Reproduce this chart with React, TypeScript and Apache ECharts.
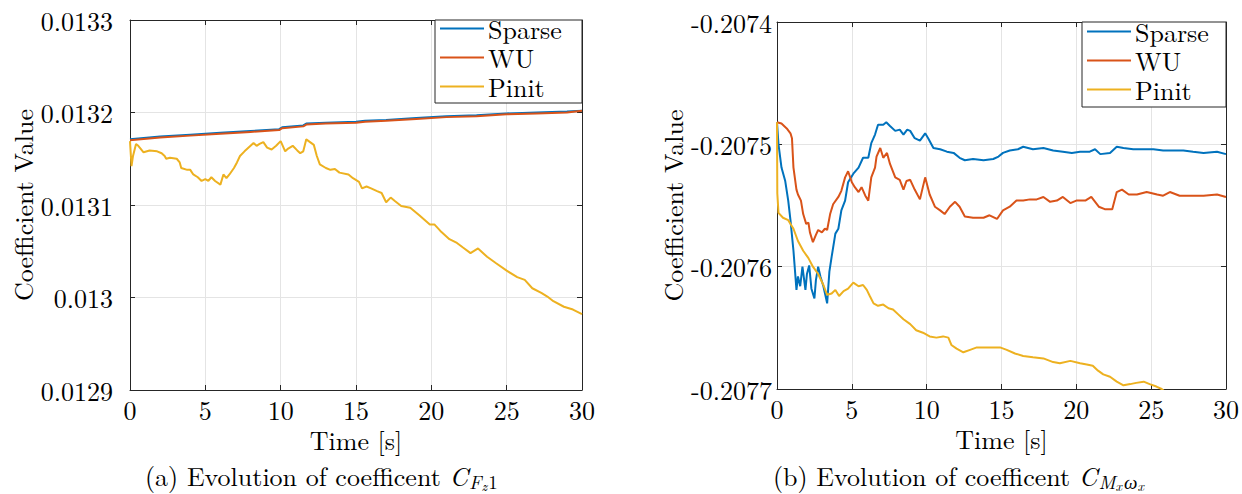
import React, { useEffect, useRef } from "react";
import * as echarts from "echarts";

const FONT = "Latin Modern Roman";
const BLUE = "#0072BD";
const RED = "#D95319";
const YEL = "#EDB120";
const AX = "#262626";
const GRIDC = "#e4e4e4";

const seriesNames = ["Sparse", "WU", "Pinit"];
const xTicks = { min: 0, max: 30, interval: 5 };
const leftY = { min: 0.0129, max: 0.0133, interval: 0.0001 };
const rightY = { min: -0.2077, max: -0.2074, interval: 0.0001 };

// (a) C_{Fz1}
const leftSparse = [
  [0, 0.013171], [2, 0.013174], [4, 0.013176], [6, 0.013178], [8, 0.01318], [9.9, 0.013182],
  [10.1, 0.013184], [11.5, 0.013186], [11.7, 0.013188], [13, 0.013189], [15, 0.01319],
  [15.6, 0.013191], [17, 0.013192], [19, 0.013194], [21, 0.013196], [23, 0.013197],
  [25, 0.013199], [27, 0.0132], [29, 0.013201], [30, 0.013202],
];
const leftWU = [
  [0, 0.01317], [2, 0.013173], [4, 0.013175], [6, 0.013177], [8, 0.013179], [9.9, 0.013181],
  [10.1, 0.013183], [11.5, 0.013185], [11.7, 0.013187], [13, 0.013188], [15, 0.013189],
  [15.6, 0.01319], [17, 0.013191], [19, 0.013193], [21, 0.013195], [23, 0.013196],
  [25, 0.013198], [27, 0.013199], [29, 0.0132], [30, 0.013202],
];
const leftPinit = [
  [0, 0.013169], [0.1, 0.013142], [0.2, 0.013153], [0.4, 0.013166], [0.55, 0.013164], [0.9, 0.013157],
  [1.3, 0.013159], [1.8, 0.013158], [2.1, 0.013156], [2.3, 0.013153], [2.4, 0.01315], [2.65, 0.013151],
  [3.1, 0.01315], [3.3, 0.013146], [3.4, 0.01314], [3.8, 0.013138], [4.0, 0.013138], [4.2, 0.013133],
  [4.5, 0.01313], [4.75, 0.013126], [5.0, 0.013128], [5.2, 0.013126], [5.4, 0.01313], [5.65, 0.013126],
  [6.0, 0.013122], [6.2, 0.013133], [6.4, 0.013129], [6.6, 0.013133], [6.9, 0.01314], [7.1, 0.013146],
  [7.3, 0.013153], [7.6, 0.013158], [8.0, 0.013164], [8.2, 0.013167], [8.4, 0.013164], [8.6, 0.013166],
  [8.85, 0.013168], [9.1, 0.013162], [9.4, 0.01316], [9.7, 0.013164], [10.0, 0.013169], [10.3, 0.013158],
  [10.5, 0.013161], [10.8, 0.013164], [11.1, 0.013159], [11.3, 0.013156], [11.5, 0.013158], [11.7, 0.013171],
  [11.95, 0.013168], [12.2, 0.013165], [12.4, 0.013153], [12.6, 0.013144], [13.0, 0.01314], [13.3, 0.013138],
  [13.6, 0.013139], [13.9, 0.013135], [14.5, 0.013133], [14.8, 0.013129], [15.2, 0.013125], [15.4, 0.013118],
  [15.7, 0.01312], [16.0, 0.013118], [16.4, 0.013115], [16.7, 0.013113], [17.0, 0.013103], [17.3, 0.013108],
  [17.6, 0.013104], [18.0, 0.013099], [18.6, 0.013097], [19.2, 0.013089], [19.9, 0.013079], [20.2, 0.013079],
  [20.6, 0.013072], [21.2, 0.013063], [21.7, 0.013059], [22.1, 0.013054], [22.6, 0.013048], [23.1, 0.013053],
  [23.7, 0.013044], [24.3, 0.013037], [25.0, 0.013029], [25.7, 0.013022], [26.2, 0.013019], [26.7, 0.01301],
  [27.3, 0.013005], [27.7, 0.013001], [28.1, 0.012996], [28.8, 0.01299], [29.4, 0.012987], [30, 0.012982],
];

// (b) C_{Mx wx}
const rightSparse = [
  [0, -0.207482], [0.1, -0.2075], [0.3, -0.207519], [0.55, -0.20753], [0.75, -0.207546], [0.9, -0.207562],
  [1.1, -0.207587], [1.3, -0.207619], [1.4, -0.207608], [1.55, -0.207616], [1.7, -0.2076], [1.9, -0.207619],
  [2.0, -0.207606], [2.15, -0.207599], [2.3, -0.207618], [2.5, -0.207626], [2.6, -0.207611], [2.75, -0.2076],
  [2.9, -0.207608], [3.1, -0.207616], [3.3, -0.207627], [3.35, -0.20763], [3.5, -0.207604], [3.65, -0.207592],
  [3.9, -0.207573], [4.1, -0.207569], [4.3, -0.207554], [4.55, -0.207546], [4.75, -0.207531], [5.1, -0.207524],
  [5.45, -0.207519], [5.75, -0.207511], [6.1, -0.207511], [6.3, -0.207499], [6.55, -0.207492], [6.75, -0.207484],
  [7.1, -0.207484], [7.3, -0.207482], [7.55, -0.207485], [7.9, -0.207489], [8.2, -0.207488], [8.45, -0.207492],
  [8.7, -0.207488], [8.9, -0.207489], [9.2, -0.207495], [9.55, -0.207497], [9.9, -0.207491], [10.1, -0.207495],
  [10.45, -0.207503], [10.9, -0.207504], [11.35, -0.207506], [11.8, -0.207507], [12.2, -0.207511], [12.55, -0.207513],
  [13.1, -0.207512], [13.8, -0.207513], [14.45, -0.207512], [14.8, -0.20751], [15.1, -0.207507], [15.55, -0.207505],
  [16.1, -0.207504], [16.45, -0.207502], [17.1, -0.207504], [17.8, -0.207503], [18.45, -0.207505], [19.1, -0.207506],
  [19.7, -0.207507], [20.25, -0.207506], [20.9, -0.207506], [21.25, -0.207504], [21.6, -0.207508], [22.25, -0.207507],
  [22.7, -0.207502], [23.15, -0.207503], [23.8, -0.207504], [24.5, -0.207504], [25.15, -0.207504], [25.8, -0.207505],
  [26.5, -0.207505], [27.15, -0.207505], [27.8, -0.207506], [28.5, -0.207507], [29.4, -0.207506], [30, -0.207508],
];
const rightWU = [
  [0, -0.207482], [0.3, -0.207483], [0.65, -0.207487], [0.9, -0.207491], [1.0, -0.207495], [1.1, -0.207519],
  [1.3, -0.207537], [1.4, -0.207541], [1.6, -0.207546], [1.75, -0.207557], [1.95, -0.207565], [2.1, -0.207564],
  [2.2, -0.207572], [2.4, -0.20758], [2.6, -0.207574], [2.75, -0.20757], [3.0, -0.207572], [3.2, -0.207569],
  [3.35, -0.20757], [3.55, -0.207557], [3.75, -0.207549], [4.1, -0.207543], [4.3, -0.207538], [4.55, -0.207527],
  [4.75, -0.207522], [5.0, -0.207531], [5.2, -0.207535], [5.45, -0.207539], [5.65, -0.207535], [5.9, -0.207542],
  [6.1, -0.207546], [6.3, -0.207527], [6.55, -0.207519], [6.65, -0.20751], [6.9, -0.207503], [7.1, -0.207511],
  [7.35, -0.207507], [7.55, -0.207516], [7.9, -0.207527], [8.2, -0.207529], [8.45, -0.207537], [8.65, -0.20753],
  [8.9, -0.207529], [9.2, -0.207537], [9.55, -0.207545], [9.9, -0.207527], [10.2, -0.207541], [10.55, -0.207551],
  [10.9, -0.207554], [11.2, -0.207557], [11.55, -0.207551], [11.9, -0.207547], [12.2, -0.207551], [12.55, -0.207559],
  [13.1, -0.20756], [13.8, -0.20756], [14.2, -0.207558], [14.7, -0.207561], [15.1, -0.207554], [15.55, -0.207551],
  [16.0, -0.207546], [16.45, -0.207546], [16.9, -0.207545], [17.35, -0.207545], [17.8, -0.207543], [18.25, -0.207547],
  [18.7, -0.207546], [19.1, -0.207543], [19.6, -0.207548], [20.0, -0.207546], [20.6, -0.207546], [21.0, -0.207543],
  [21.5, -0.207551], [21.9, -0.207553], [22.4, -0.207553], [22.7, -0.207539], [23.05, -0.207537], [23.5, -0.207541],
  [24.05, -0.207541], [24.7, -0.207539], [25.4, -0.207541], [25.8, -0.207542], [26.25, -0.207539], [26.9, -0.207542],
  [27.6, -0.207542], [28.5, -0.207542], [29.4, -0.207541], [30, -0.207543],
];
const rightPinit = [
  [0, -0.207482], [0.02, -0.20754], [0.1, -0.207556], [0.4, -0.20756], [0.75, -0.207562], [1.1, -0.207569],
  [1.4, -0.207579], [1.75, -0.207587], [2.1, -0.207593], [2.4, -0.2076], [2.75, -0.207606], [3.1, -0.207615],
  [3.35, -0.207623], [3.65, -0.207622], [3.9, -0.207619], [4.15, -0.207624], [4.45, -0.20762], [4.75, -0.207618],
  [5.1, -0.207613], [5.45, -0.207616], [5.75, -0.207615], [6.0, -0.207619], [6.2, -0.207624], [6.45, -0.20763],
  [6.75, -0.207632], [7.1, -0.207631], [7.45, -0.207634], [7.75, -0.207635], [8.1, -0.207639], [8.45, -0.207643],
  [8.9, -0.207647], [9.3, -0.207652], [9.75, -0.207654], [10.2, -0.207657], [10.65, -0.207658], [11.1, -0.207657],
  [11.45, -0.207658], [11.65, -0.207664], [12.0, -0.207667], [12.45, -0.20767], [12.9, -0.207668], [13.35, -0.207666],
  [14.0, -0.207666], [14.45, -0.207666], [14.9, -0.207666], [15.35, -0.207668], [15.9, -0.207671], [16.45, -0.207673],
  [17.1, -0.207674], [17.8, -0.207675], [18.45, -0.207678], [18.9, -0.207679], [19.6, -0.207677], [20.25, -0.207679],
  [20.7, -0.20768], [21.1, -0.207681], [21.45, -0.207685], [21.8, -0.207688], [22.25, -0.20769], [22.7, -0.207694],
  [23.15, -0.207697], [23.6, -0.207696], [24.0, -0.207695], [24.5, -0.207694], [24.9, -0.207696], [25.35, -0.207698],
  [25.7, -0.2077], [26.2, -0.207705],
];

const fmt = (v: number) => String(parseFloat(v.toFixed(4)));
const txt = { fontFamily: FONT, fontSize: 26, color: "#000" };

function xAxes(grid: number, name: string) {
  const base = {
    gridIndex: grid, type: "value", ...xTicks,
    axisLine: { show: true, onZero: false, lineStyle: { color: AX, width: 1 } },
    axisTick: { show: true, inside: true, length: 5, lineStyle: { color: AX } },
  };
  return [
    {
      ...base, position: "bottom",
      axisLabel: { ...txt, margin: 6 },
      splitLine: { show: true, lineStyle: { color: GRIDC, width: 1 } },
      name, nameLocation: "middle", nameGap: 35, nameTextStyle: { ...txt },
    },
    { ...base, position: "top", axisLabel: { show: false }, splitLine: { show: false } },
  ];
}
function yAxes(grid: number, range: any, margin: number, gap: number) {
  const base = {
    gridIndex: grid, type: "value", ...range, scale: true,
    axisLine: { show: true, onZero: false, lineStyle: { color: AX, width: 1 } },
    axisTick: { show: true, inside: true, length: 5, lineStyle: { color: AX } },
  };
  return [
    {
      ...base, position: "left",
      axisLabel: { ...txt, margin, formatter: fmt },
      splitLine: { show: true, lineStyle: { color: GRIDC, width: 1 } },
      name: "Coefficient Value", nameLocation: "middle", nameGap: gap, nameTextStyle: { ...txt },
    },
    { ...base, position: "right", axisLabel: { show: false }, splitLine: { show: false } },
  ];
}

function line(name: string, data: number[][], color: string, xi: number, yi: number) {
  return {
    type: "line", name, data, xAxisIndex: xi, yAxisIndex: yi,
    symbol: "none", showSymbol: false, clip: true,
    lineStyle: { color, width: 2 }, itemStyle: { color },
  };
}

const richBase = { fontFamily: FONT, fontSize: 26, fill: "#000", verticalAlign: "top", lineHeight: 26 };
const rich = {
  n: { ...richBase },
  c: { ...richBase, fontStyle: "italic" },
  s: { fontFamily: FONT, fontSize: 19, fill: "#000", fontStyle: "italic", verticalAlign: "top", padding: [10, 0, 0, 1] },
  u: { fontFamily: FONT, fontSize: 19, fill: "#000", verticalAlign: "top", padding: [10, 0, 0, 0] },
  ss: { fontFamily: FONT, fontSize: 14, fill: "#000", fontStyle: "italic", verticalAlign: "top", padding: [16, 1, 0, 0] },
};

export default function App() {
  const ref = useRef<HTMLDivElement>(null);
  useEffect(() => {
    if (!ref.current) return;
    const chart = echarts.init(ref.current, null, { renderer: "svg" });
    const legendBase = {
      orient: "vertical", itemWidth: 44, itemHeight: 2, itemGap: 2, padding: 0, icon: "rect",
      selectedMode: false, z: 10, data: seriesNames,
      textStyle: { ...txt, lineHeight: 27, padding: [0, 0, 0, -1] },
    };
    chart.setOption({
      animation: false,
      backgroundColor: "#fff",
      textStyle: { fontFamily: FONT },
      grid: [
        { left: 130, top: 20, width: 452, height: 370 },
        { left: 777, top: 22, width: 449, height: 367 },
      ],
      xAxis: [...xAxes(0, "Time [s]"), ...xAxes(1, "Time [s]")],
      yAxis: [...yAxes(0, leftY, 17, 95), ...yAxes(1, rightY, 5, 92)],
      legend: [
        { ...legendBase, left: 440, top: 15 },
        { ...legendBase, left: 1087, top: 18 },
      ],
      graphic: [
        { type: "rect", z: 5, shape: { x: 435, y: 20, width: 147, height: 83 }, style: { fill: "#fff", stroke: AX, lineWidth: 1 } },
        { type: "rect", z: 5, shape: { x: 1082, y: 22, width: 144, height: 85 }, style: { fill: "#fff", stroke: AX, lineWidth: 1 } },
        {
          type: "text", x: 145, y: 462, z: 5,
          style: { text: "{n|(a) Evolution of coefficent }{c|C}{s|F}{ss|z}{u|1}", fontFamily: FONT, fontSize: 26, rich },
        },
        {
          type: "text", x: 773, y: 462, z: 5,
          style: { text: "{n|(b) Evolution of coefficent }{c|C}{s|M}{ss|x}{s|ω}{ss|x}", fontFamily: FONT, fontSize: 26, rich },
        },
      ],
      series: [
        line("Sparse", leftSparse, BLUE, 0, 0),
        line("WU", leftWU, RED, 0, 0),
        line("Pinit", leftPinit, YEL, 0, 0),
        line("Sparse", rightSparse, BLUE, 2, 2),
        line("WU", rightWU, RED, 2, 2),
        line("Pinit", rightPinit, YEL, 2, 2),
      ],
    });
    return () => chart.dispose();
  }, []);
  return (
    <div
      ref={ref}
      style={{ position: "fixed", left: 0, top: 0, width: 1242, height: 494, background: "#fff" }}
    />
  );
}
